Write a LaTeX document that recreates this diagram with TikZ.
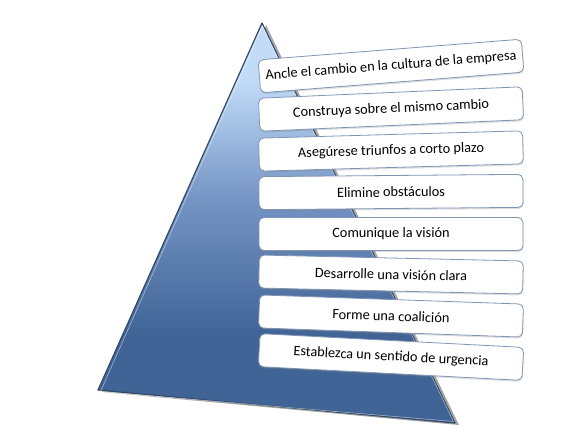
\documentclass[tikz,border=0pt]{standalone}
\usepackage{fontspec}
\setmainfont{Carlito}
\usepackage{tikz}
\usetikzlibrary{positioning, shapes, shadows}

\definecolor{pirclaro}{RGB}{194,220,248}
\definecolor{pirmedio}{RGB}{116,148,196}
\definecolor{piroscuro}{RGB}{64,100,150}
\definecolor{pirborde}{RGB}{50,74,104}
\definecolor{cajaborde}{RGB}{128,148,180}

\pgfdeclareverticalshading{piramidal}{100bp}{color(0bp)=(piroscuro); color(36bp)=(piroscuro);
  color(53bp)=(pirmedio); color(68bp)=(pirclaro); color(100bp)=(pirclaro)}

\begin{document}
\begin{tikzpicture}[x=1pt, y=1pt, font=\fontsize{14.3}{16}\selectfont]
  \tikzset{
    caja/.style={
      rectangle,
      rounded corners=5pt,
      draw=cajaborde,
      line width=0.8pt,
      fill=white,
      minimum width=264pt,
      minimum height=33pt,
      text centered,
      drop shadow={opacity=0.25, shadow xshift=0.6pt, shadow yshift=-1.6pt}},
    piramide/.style={
      shading=piramidal}}

  \useasboundingbox (0,0) rectangle (576,-432);

  \coordinate (cima) at (262,-23);
  \coordinate (izq) at (98,-390);
  \coordinate (der) at (455,-423);

  % sombra y cuerpo de la piramide
  \fill[black, opacity=0.35] ([shift={(4,-2)}]cima) -- ([shift={(4,-2)}]izq)
    -- ([shift={(4,-2)}]der) -- cycle;
  \shade[piramide] (cima) -- (izq) -- (der) -- cycle;
  \draw[pirborde, line width=1.2pt, line join=round] (cima) -- (izq) -- (der) -- cycle;
  \draw[white, opacity=0.6, line width=0.5pt, line join=round]
    ([shift={(0.5,-3)}]cima) -- ([shift={(2.5,-1.5)}]izq) -- ([shift={(-1.5,1.5)}]der) -- cycle;

  \node[caja, rotate=4.5] (p1) at (391,-66) {Ancle el cambio en la cultura de la empresa};
  \node[caja, rotate=2.5] (p2) at (391,-109) {Construya sobre el mismo cambio};
  \node[caja, rotate=1.6] (p3) at (391,-151) {Asegúrese triunfos a corto plazo};
  \node[caja, rotate=0.5] (p4) at (391,-192) {Elimine obstáculos};
  \node[caja] (p5) at (391,-234) {Comunique la visión};
  \node[caja, rotate=-1.3] (p6) at (391,-274.5) {Desarrolle una visión clara};
  \node[caja, rotate=-2] (p7) at (391,-316) {Forme una coalición};
  \node[caja, rotate=-3] (p8) at (391,-357) {Establezca un sentido de urgencia};

\end{tikzpicture}
\end{document}
